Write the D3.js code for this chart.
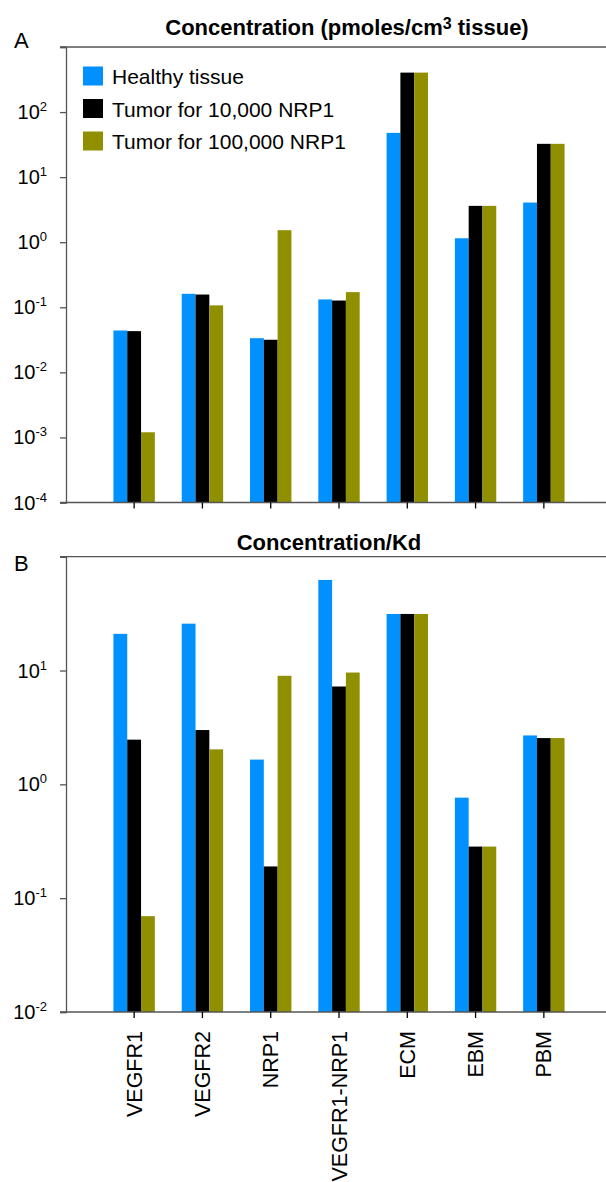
<!DOCTYPE html>
<html>
<head>
<meta charset="utf-8">
<script src="https://cdnjs.cloudflare.com/ajax/libs/d3/7.8.5/d3.min.js"></script>
<style>
	html, body { margin: 0; padding: 0; background: #fff; }
	svg text { font-family: "Liberation Sans", Arial, sans-serif; fill: #000; }
</style>
</head>
<body>
<div id="chart"></div>
<script>
	/* --------------------- data ---------------------- */

	const categories = ['VEGFR1', 'VEGFR2', 'NRP1', 'VEGFR1-NRP1', 'ECM', 'EBM', 'PBM'];
	const seriesNames = ['Healthy tissue', 'Tumor for 10,000 NRP1', 'Tumor for 100,000 NRP1'];
	const seriesColors = ['#0090ff', '#000000', '#8f8f00'];

	// panel A: concentration (pmoles/cm3 tissue)
	const concHealthy = [0.044, 0.161, 0.0335, 0.132, 47.9, 1.15, 4.07];
	const concTumor10k = [0.043, 0.157, 0.0317, 0.127, 404, 3.62, 32.5];
	const concTumor100k = [0.0012, 0.107, 1.53, 0.171, 404, 3.62, 32.5];
	const concExponents = [-4, -3, -2, -1, 0, 1, 2, 3];

	// panel B: concentration / Kd
	const kdHealthy = [21.0, 25.8, 1.65, 62.5, 31.4, 0.764, 2.69];
	const kdTumor10k = [2.47, 3.0, 0.19, 7.24, 31.4, 0.284, 2.55];
	const kdTumor100k = [0.0695, 2.03, 8.99, 9.6, 31.4, 0.284, 2.55];
	const kdExponents = [-2, -1, 0, 1, 2];

	/* --------------------- layout ---------------------- */

	const width = 606;
	const height = 1182;
	const axisX = 66;
	const axisColor = '#555';

	let svg = d3.select('#chart')
		.append('svg')
		.attr('width', width)
		.attr('height', height);

	// shared category scales
	let x0 = d3.scaleBand()
		.domain(categories)
		.range([100, 578]);

	let x1 = d3.scaleBand()
		.domain(seriesNames)
		.range([0, x0.bandwidth()])
		.paddingOuter(0.975);

	let color = d3.scaleOrdinal()
		.domain(seriesNames)
		.range(seriesColors);

	function drawPanel(cfg) {
		let g = svg.append('g');
		let exps = cfg.exponents;

		let y = d3.scaleLog()
			.domain([Math.pow(10, exps[0]), Math.pow(10, exps[exps.length - 1])])
			.range([cfg.bottom, cfg.top]);

		// bars
		let rows = categories.map((c, i) => {
			return seriesNames.map((s, j) => ({cat: c, series: s, value: cfg.values[j][i]}));
		});

		g.selectAll('g.group')
			.data(rows)
			.enter().append('g')
				.attr('class', 'group')
				.attr('transform', (d, i) => 'translate(' + x0(categories[i]) + ',0)')
			.selectAll('rect')
			.data(d => d)
			.enter().append('rect')
				.attr('x', d => x1(d.series))
				.attr('width', x1.bandwidth())
				.attr('y', d => y(d.value))
				.attr('height', d => y.range()[0] - y(d.value))
				.attr('fill', d => color(d.series));

		// left axis, ticks only
		let yAxis = d3.axisLeft(y)
			.tickValues(exps.map(e => Math.pow(10, e)))
			.tickFormat('')
			.tickSizeOuter(0)
			.tickSize(6);

		let ya = g.append('g')
			.attr('transform', 'translate(' + axisX + ',0)')
			.call(yAxis);
		ya.selectAll('path, line').attr('stroke', axisColor).attr('stroke-width', 1.3);

		// tick labels 10^n (top one is unlabelled)
		let labels = g.selectAll('text.ylab')
			.data(exps.slice(0, -1))
			.enter().append('text')
				.attr('class', 'ylab')
				.attr('text-anchor', 'end')
				.attr('x', 47)
				.attr('y', e => y(Math.pow(10, e)) + 7)
				.style('font-size', '20px');
		labels.append('tspan').text('10');
		labels.append('tspan')
			.attr('dy', -8)
			.style('font-size', '13px')
			.text(e => String(e));

		// top and bottom frame lines
		let yEnds = y.range();
		g.selectAll('line.frame')
			.data(yEnds)
			.enter().append('line')
				.attr('class', 'frame')
				.attr('x1', axisX - 6)
				.attr('x2', width)
				.attr('y1', d => d)
				.attr('y2', d => d)
				.attr('stroke', axisColor)
				.attr('stroke-width', 1.3);

		// category ticks
		let xAxis = d3.axisBottom(x0)
			.tickFormat('')
			.tickSize(6)
			.tickSizeOuter(0);
		let xa = g.append('g')
			.attr('transform', 'translate(0,' + yEnds[0] + ')')
			.call(xAxis);
		xa.select('.domain').remove();
		xa.selectAll('line').attr('stroke', '#000').attr('stroke-width', 1.3);

		// panel letter
		g.append('text')
			.attr('x', 14)
			.attr('y', cfg.letterY)
			.style('font-size', '22px')
			.text(cfg.letter);

		return {g: g, y: y};
	}

	/* --------------------- panel A ---------------------- */

	let panelA = drawPanel({
		values: [concHealthy, concTumor10k, concTumor100k],
		exponents: concExponents,
		top: 47,
		bottom: 502.5,
		letter: 'A',
		letterY: 48
	});

	let titleA = svg.append('text')
		.attr('x', 347)
		.attr('y', 35)
		.attr('text-anchor', 'middle')
		.style('font-size', '22px')
		.style('font-weight', 'bold');
	titleA.append('tspan').text('Concentration (pmoles/cm');
	titleA.append('tspan').attr('dy', -6).style('font-size', '16px').text('3');
	titleA.append('tspan').attr('dy', 6).text(' tissue)');

	// legend
	let legend = svg.selectAll('g.legend')
		.data(seriesNames)
		.enter().append('g')
			.attr('class', 'legend')
			.attr('transform', (d, i) => 'translate(83,' + (76.5 + i * 32.5) + ')');
	legend.append('rect')
		.attr('x', 0)
		.attr('y', -10)
		.attr('width', 20)
		.attr('height', 19)
		.attr('fill', d => color(d));
	legend.append('text')
		.attr('x', 29)
		.attr('y', 7.5)
		.style('font-size', '21px')
		.text(d => d);

	/* --------------------- panel B ---------------------- */

	let panelB = drawPanel({
		values: [kdHealthy, kdTumor10k, kdTumor100k],
		exponents: kdExponents,
		top: 556.7,
		bottom: 1012,
		letter: 'B',
		letterY: 571
	});

	svg.append('text')
		.attr('x', 329)
		.attr('y', 550)
		.attr('text-anchor', 'middle')
		.style('font-size', '22px')
		.style('font-weight', 'bold')
		.text('Concentration/Kd');

	// rotated category labels under panel B
	svg.selectAll('text.xlab')
		.data(categories)
		.enter().append('text')
			.attr('class', 'xlab')
			.attr('text-anchor', 'end')
			.attr('transform', d => 'translate(' + (x0(d) + x0.bandwidth() / 2) + ',1031) rotate(-90)')
			.attr('dy', '0.35em')
			.style('font-size', '21.5px')
			.text(d => d);
</script>
</body>
</html>
